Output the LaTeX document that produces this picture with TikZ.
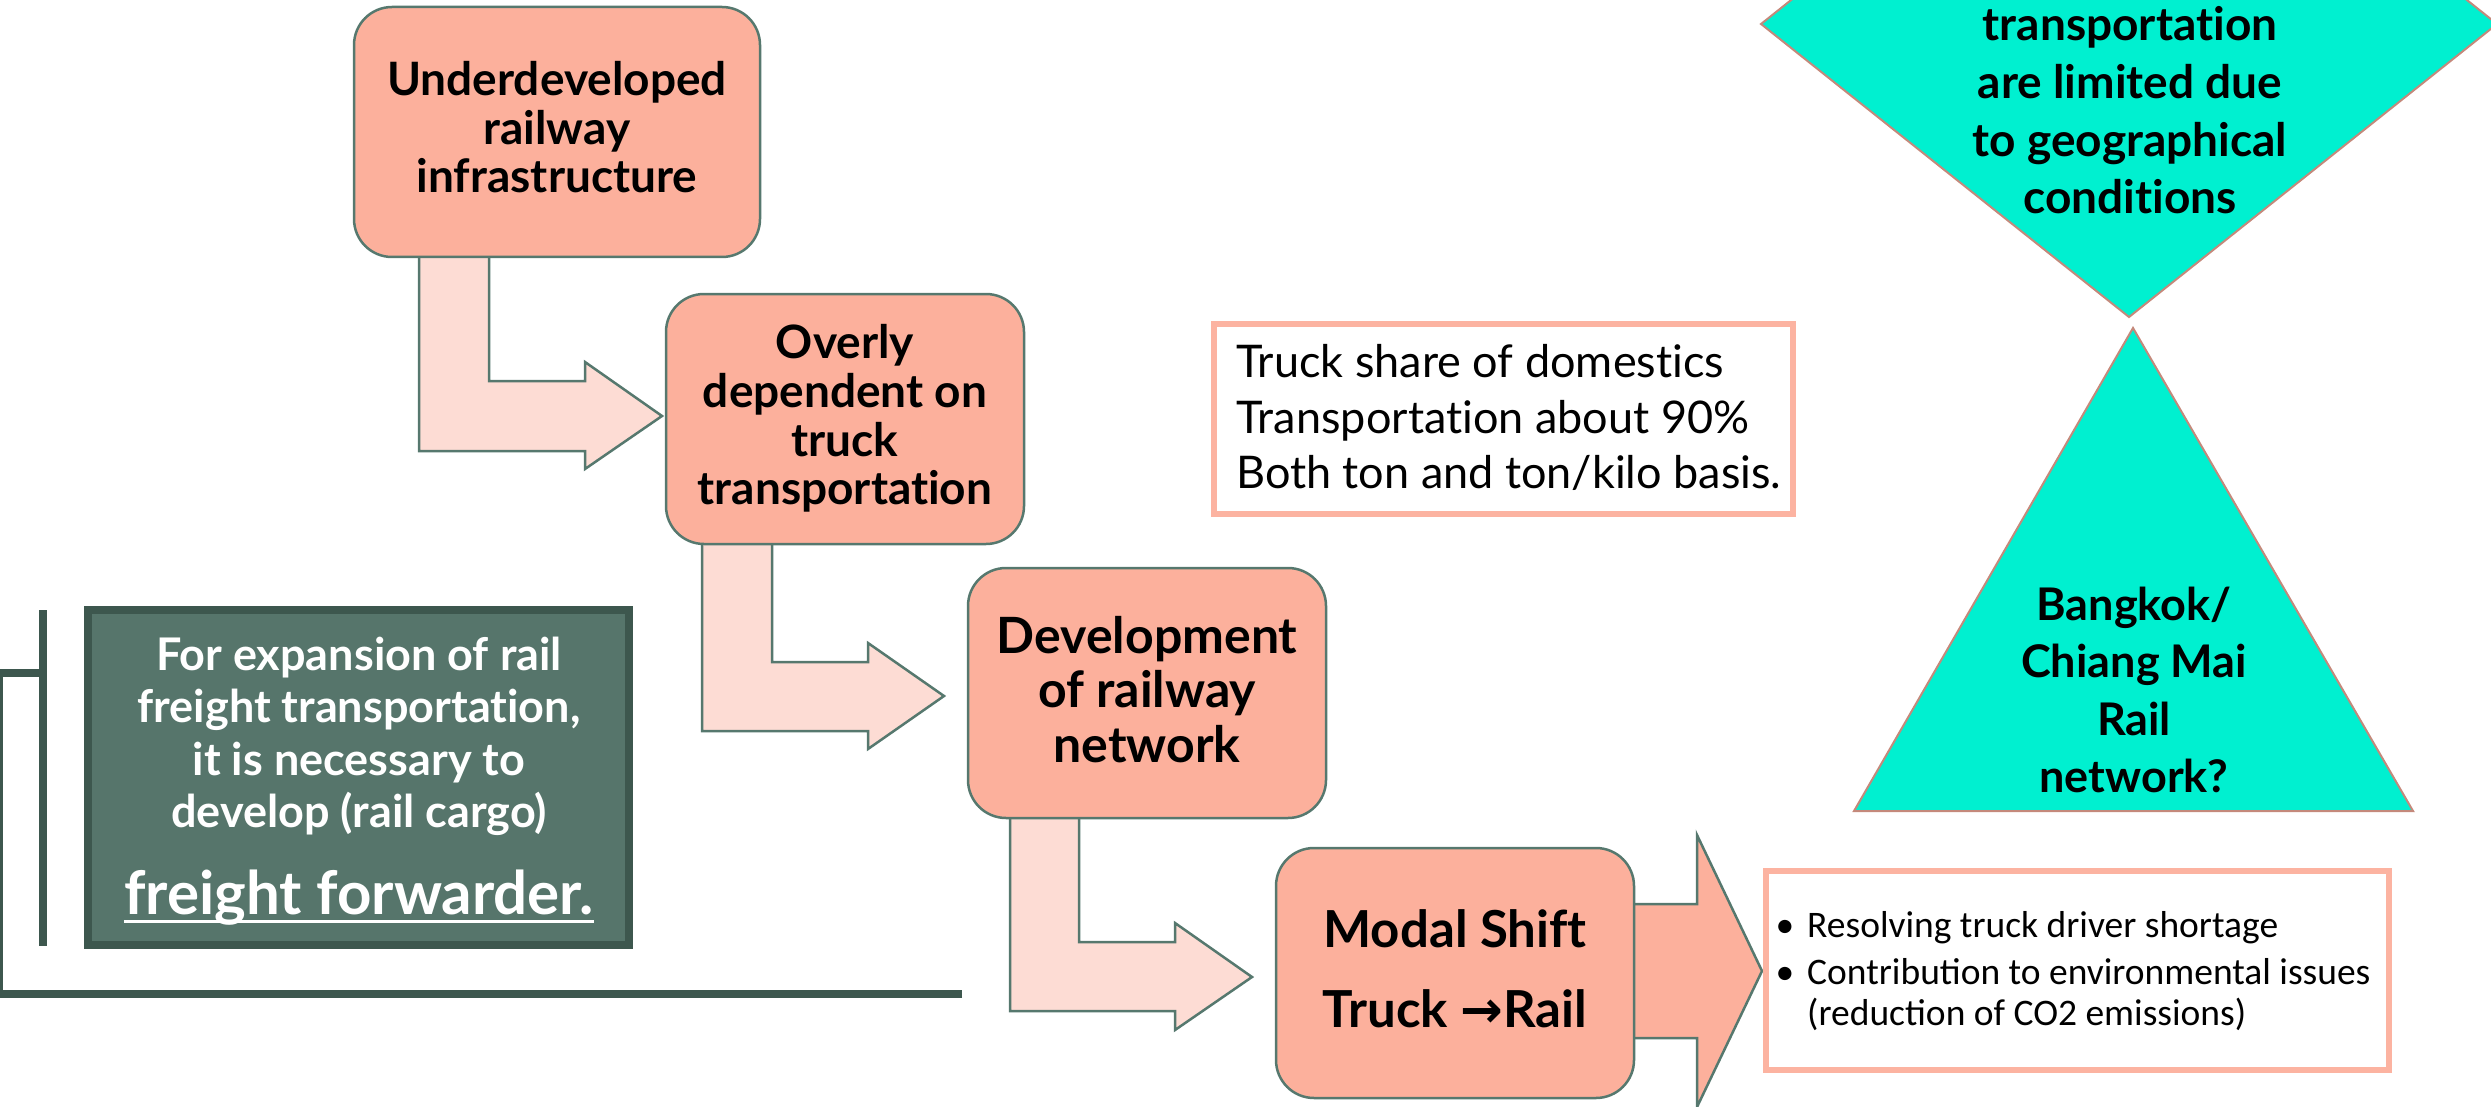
\documentclass[tikz,border=0pt]{standalone}
\usepackage{fontspec}
\setmainfont{Lato}[Ligatures={NoCommon}]
\newfontfamily\carl{Carlito}
\newfontfamily\dvs{DejaVu Sans}
\definecolor{salmon}{HTML}{FCB09C}
\definecolor{pinkl}{HTML}{FDDCD4}
\definecolor{edgec}{HTML}{56786E}
\definecolor{darkfill}{HTML}{56756B}
\definecolor{darkedge}{HTML}{3D574E}
\definecolor{cyanf}{HTML}{00F0D0}
\definecolor{cyanedge}{HTML}{C4897B}
\definecolor{tbedge}{HTML}{FCB3A1}
\begin{document}
\begin{tikzpicture}[x=1pt,y=-1pt,
  rbox/.style={draw=edgec, line width=2.5pt, fill=salmon, rounded corners=38pt, inner sep=0pt, minimum width=358pt, minimum height=250pt},
  barrow/.style={draw=edgec, line width=2.5pt, fill=pinkl, line join=miter},
  bigarrow/.style={draw=edgec, line width=2.5pt, fill=salmon, line join=miter},
  cyanshape/.style={draw=cyanedge, line width=2pt, fill=cyanf, line join=miter},
  frame/.style={draw=tbedge, line width=6pt, fill=white, inner sep=0pt},
  bt/.style={anchor=base, inner sep=0pt, font=\bfseries\fontsize{46}{49}\selectfont},
  bt3/.style={anchor=base, inner sep=0pt, font=\bfseries\fontsize{50}{55}\selectfont},
  bt4/.style={anchor=base, inner sep=0pt, font=\bfseries\fontsize{51}{55}\selectfont},
  ct/.style={anchor=base, inner sep=0pt, font=\bfseries\fontsize{46}{57}\selectfont},
  ct2/.style={anchor=base, inner sep=0pt, font=\bfseries\fontsize{45}{57}\selectfont},
  wt/.style={anchor=base, inner sep=0pt, text=white, font=\bfseries\fontsize{45}{52}\selectfont},
  rt/.style={anchor=base west, inner sep=0pt, font=\fontsize{45}{55}\selectfont},
  kt/.style={anchor=base west, inner sep=0pt, font=\carl\fontsize{37.5}{45}\selectfont},
  ln/.style={draw=darkedge, line width=7.5pt, line join=miter}
]
\useasboundingbox (0,0) rectangle (2491,1107);

% bent arrows (behind boxes)
\draw[barrow] (419,250) -- (489,250) -- (489,381) -- (585,381) -- (585,362) -- (662,416) -- (585,469) -- (585,451) -- (419,451) -- cycle;
\draw[barrow] (702,538) -- (772,538) -- (772,662) -- (868,662) -- (868,643) -- (944,696) -- (868,749) -- (868,731) -- (702,731) -- cycle;
\draw[barrow] (1010,812) -- (1079,812) -- (1079,942) -- (1175,942) -- (1175,923) -- (1252,977) -- (1175,1030) -- (1175,1011) -- (1010,1011) -- cycle;
% big arrow
\draw[bigarrow] (1600,904) -- (1697,904) -- (1697,835) -- (1762,971) -- (1697,1107) -- (1697,1038) -- (1600,1038) -- cycle;

% boxes
\node[rbox, minimum width=406pt] (b1) at (557,132) {};
\node[rbox] (b2) at (845,419) {};
\node[rbox] (b3) at (1147,693) {};
\node[rbox] (b4) at (1455,973) {};

\node[bt] (b1a) at (557,96) {Underdeveloped};
\node[bt] (b1b) at (557,145) {railway};
\node[bt] (b1c) at (557,193) {infrastructure};

\node[bt] (b2a) at (845,358) {Overly};
\node[bt] (b2b) at (845,407) {dependent on};
\node[bt] (b2c) at (845,456) {truck};
\node[bt] (b2d) at (845,504) {transportation};

\node[bt3] (b3a) at (1147,653) {Development};
\node[bt3] (b3b) at (1147,707) {of railway};
\node[bt3] (b3c) at (1147,762) {network};

\node[bt4] (b4a) at (1455,947) {Modal Shift};
\node[bt4] (b4b) at (1455,1027) {Truck {\dvs\bfseries →}Rail};

% top text box
\node[frame, minimum width=579pt, minimum height=190pt] (tb) at (1503.5,419) {};
\node[rt] (tb1) at (1236,377) {Truck share of domestics};
\node[rt] (tb2) at (1236,433) {Transportation about 90\%};
\node[rt] (tb3) at (1236,488) {Both ton and ton/kilo basis.};

% right text box
\node[frame, minimum width=623pt, minimum height=199pt] (rb) at (2077.5,970.5) {};
\node[kt, anchor=base] (rbu1) at (1785,937) {•};
\node[kt] (rb1) at (1807,937) {Resolving truck driver shortage};
\node[kt, anchor=base] (rbu2) at (1785,984) {•};
\node[kt] (rb2) at (1807,984) {Contribution to environmental issues};
\node[kt] (rb3) at (1807,1025) {(reduction of CO2 emissions)};

% cyan shapes
\draw[cyanshape] (1761,24) -- (2129,317) -- (2497,24) -- (2129,-269) -- cycle;
\draw[cyanshape] (2133,328) -- (2413,811) -- (1854,811) -- cycle;
\node[ct] (d1) at (2130,41) {transportation};
\node[ct] (d2) at (2130,99) {are limited due};
\node[ct] (d3) at (2130,157) {to geographical};
\node[ct] (d4) at (2130,214) {conditions};
\node[ct2] (t1) at (2134,620) {Bangkok/};
\node[ct2] (t2) at (2134,677) {Chiang Mai};
\node[ct2] (t3) at (2134,735) {Rail};
\node[ct2] (t4) at (2134,792) {network?};

% dark box and lines
\node[draw=darkedge, line width=8pt, fill=darkfill, minimum width=541pt, minimum height=335pt, inner sep=0pt] (db) at (358.5,777.5) {};
\node[wt] (w1) at (359,670) {For expansion of rail};
\node[wt] (w2) at (359,722) {freight transportation,};
\node[wt] (w3) at (359,775) {it is necessary to};
\node[wt] (w4) at (359,827) {develop (rail cargo)};
\node[wt, font=\bfseries\fontsize{60}{66}\selectfont] (w5) at (359,914) {freight forwarder.};
\draw[white, line width=3pt] ([yshift=-7pt]w5.base west) -- ([yshift=-7pt]w5.base east);

\coordinate (lnend) at (962,994);
\draw[ln] (43,610) -- (43,946);
\draw[ln] (lnend) -- (-1,994) -- (-1,673) -- (46,673);
\end{tikzpicture}
\end{document}
